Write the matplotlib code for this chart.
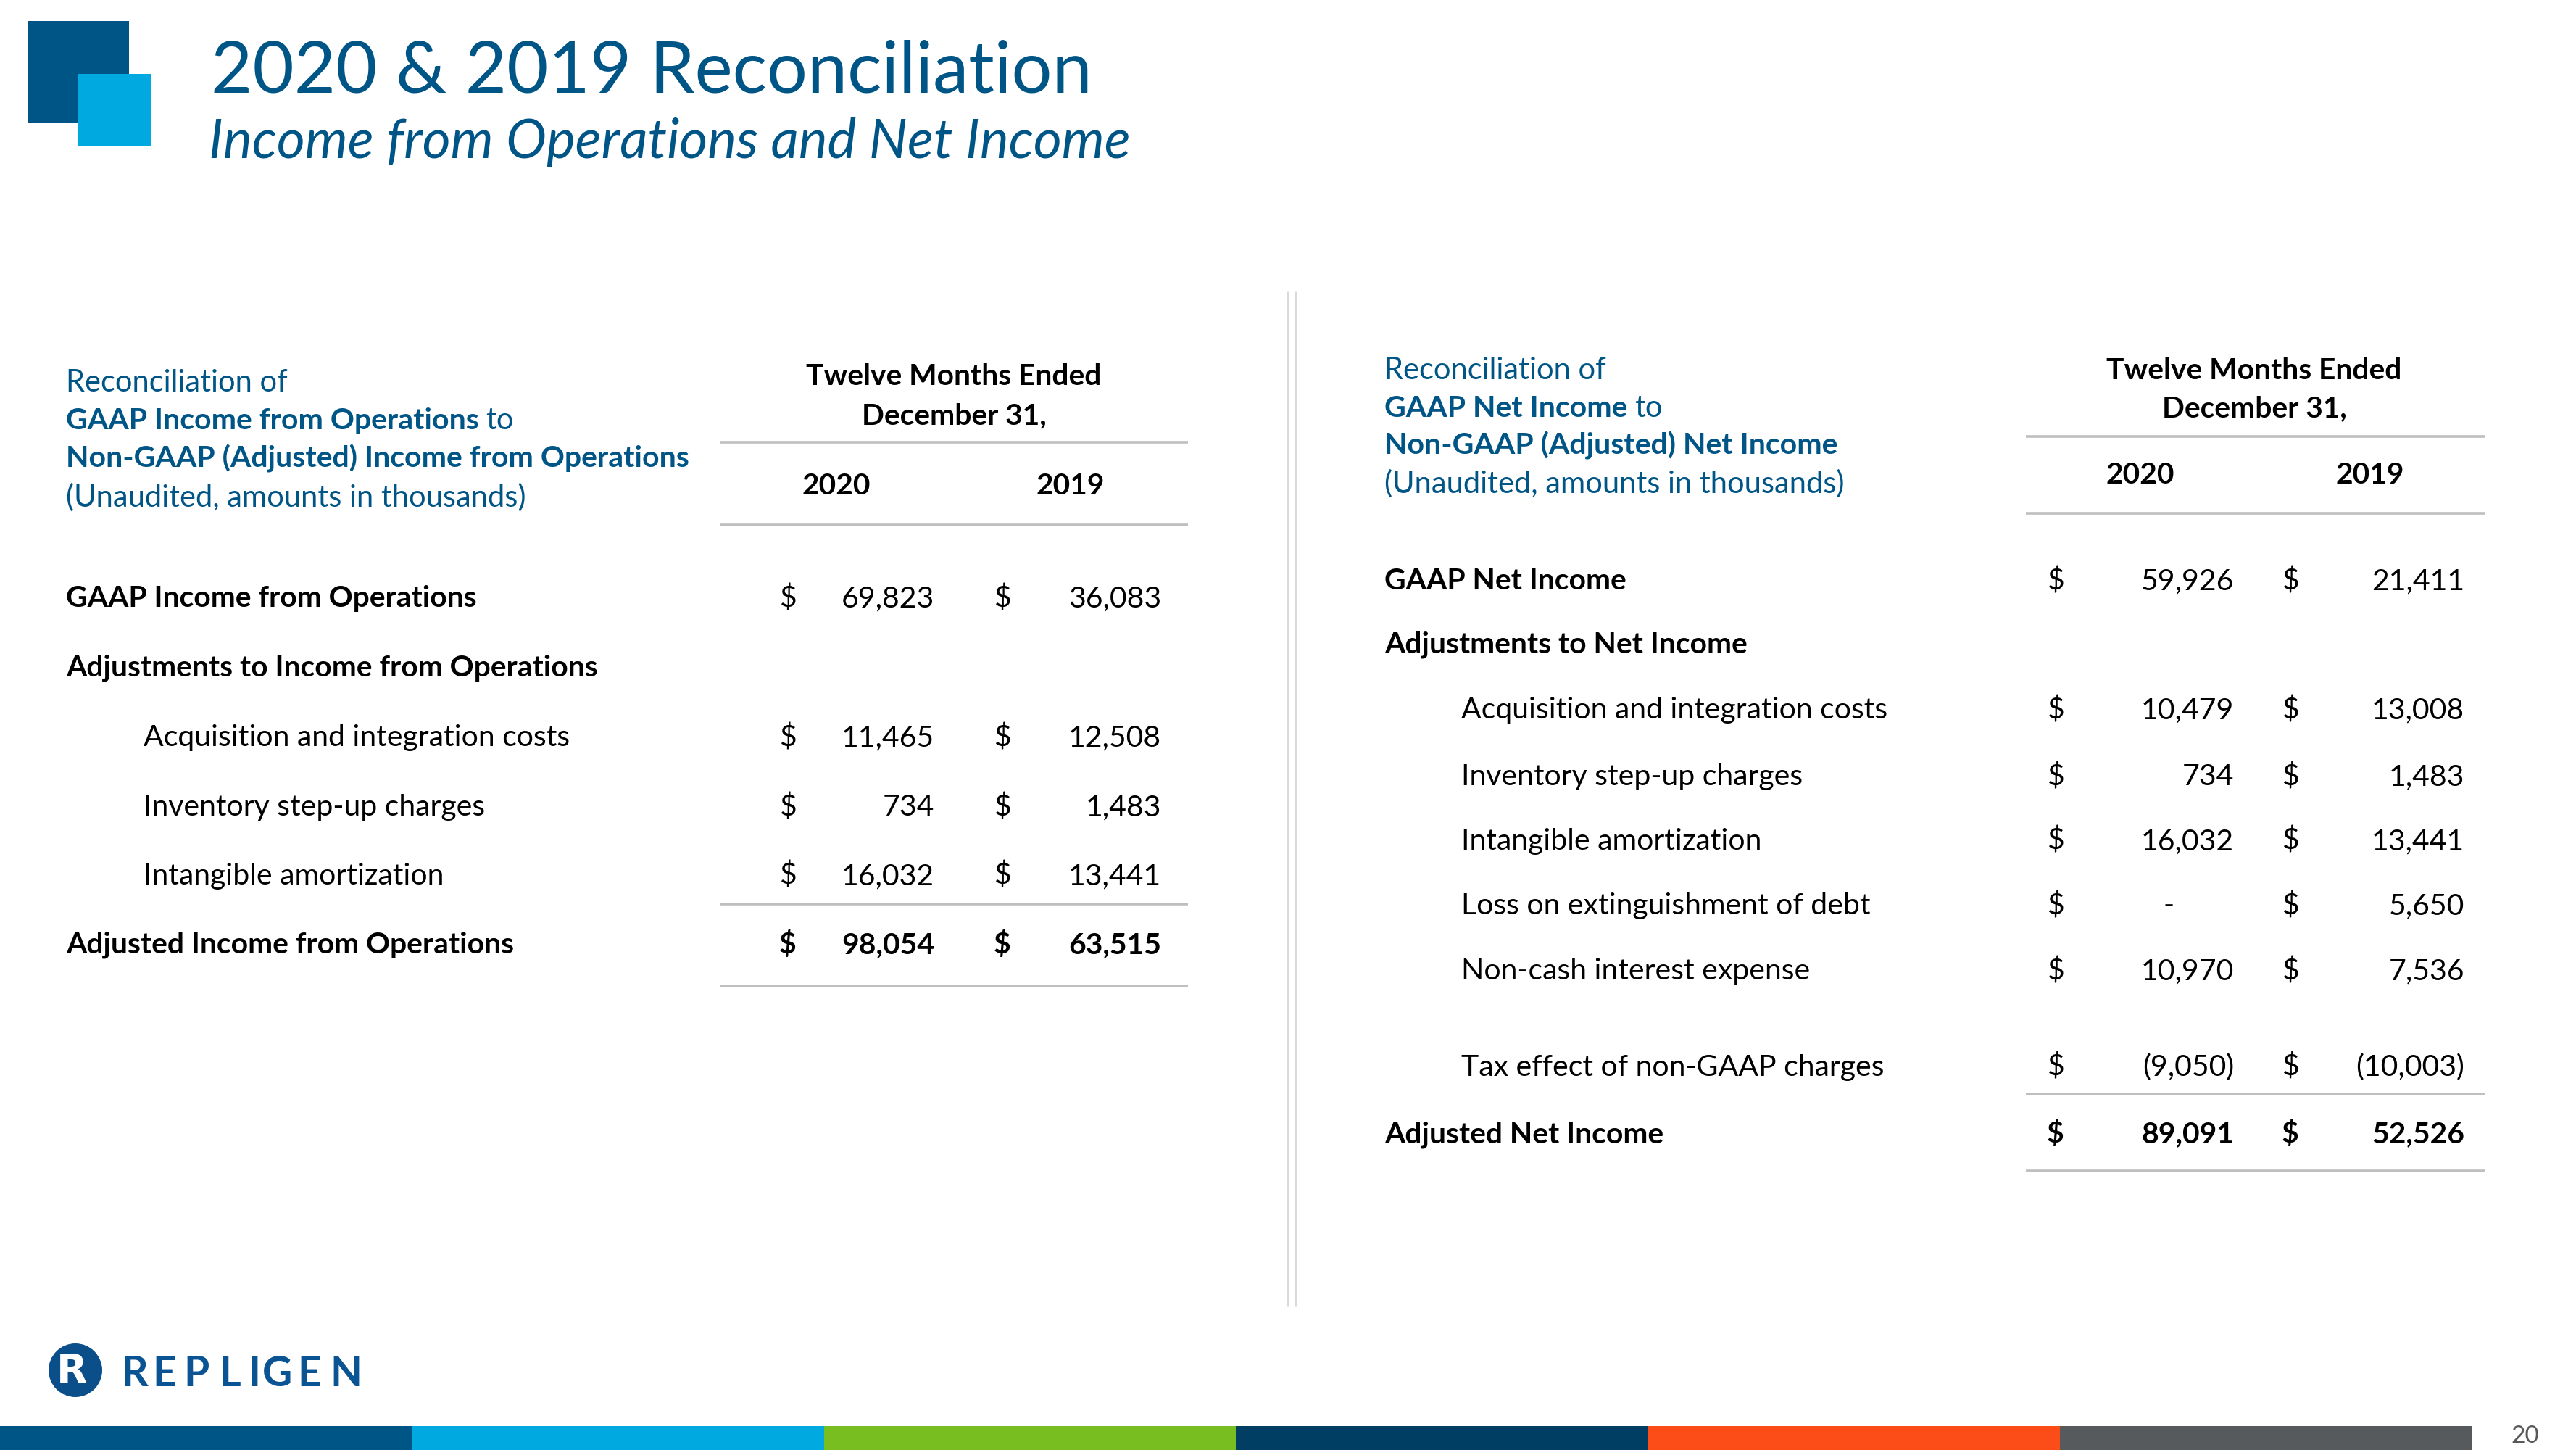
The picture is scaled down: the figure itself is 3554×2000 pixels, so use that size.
import matplotlib
matplotlib.use("Agg")
import matplotlib.pyplot as plt
from matplotlib.patches import Rectangle, Circle

# ---------------- data ----------------
title = "2020 & 2019 Reconciliation"
subtitle = "Income from Operations and Net Income"
period_header = ["Twelve Months Ended", "December 31,"]
years = ["2020", "2019"]

left_header_lines = [
    [("Reconciliation of", False)],
    [("GAAP Income from Operations", True), ("to", False)],
    [("Non-GAAP (Adjusted) Income from Operations", True)],
    [("(Unaudited, amounts in thousands)", False)],
]
left_labels = ["GAAP Income from Operations",
               "Adjustments to Income from Operations",
               "Acquisition and integration costs",
               "Inventory step-up charges",
               "Intangible amortization",
               "Adjusted Income from Operations"]
left_kind = ["bold", "bold", "item", "item", "item", "total"]
left_2020 = [69823, None, 11465, 734, 16032, 98054]
left_2019 = [36083, None, 12508, 1483, 13441, 63515]

right_header_lines = [
    [("Reconciliation of", False)],
    [("GAAP Net Income", True), ("to", False)],
    [("Non-GAAP (Adjusted) Net Income", True)],
    [("(Unaudited, amounts in thousands)", False)],
]
right_labels = ["GAAP Net Income",
                "Adjustments to Net Income",
                "Acquisition and integration costs",
                "Inventory step-up charges",
                "Intangible amortization",
                "Loss on extinguishment of debt",
                "Non-cash interest expense",
                "Tax effect of non-GAAP charges",
                "Adjusted Net Income"]
right_kind = ["bold", "bold", "item", "item", "item", "item", "item", "item", "total"]
right_2020 = [59926, None, 10479, 734, 16032, 0, 10970, -9050, 89091]
right_2019 = [21411, None, 13008, 1483, 13441, 5650, 7536, -10003, 52526]

logo_text = "REPLIGEN"
page_number = "20"

# ---------------- style ----------------
W, H, DPI = 3555, 2000, 100
plt.rcParams['font.family'] = ["Lato", "DejaVu Sans"]
BLUE = "#005587"
LIGHT_BLUE = "#00A9E0"
LINE_GRAY = "#BFBFBF"
bar_colors = ["#005587", "#00A9E0", "#78BE20", "#003F63", "#FC4C17", "#575A5C"]

fig = plt.figure(figsize=(W / DPI, H / DPI), dpi=DPI)
ax = fig.add_axes([0, 0, 1, 1])
ax.set_xlim(0, W)
ax.set_ylim(H, 0)
ax.axis("off")
renderer = fig.canvas.get_renderer()


def width_of(s, size, **kw):
    t = ax.text(0, 0, s, fontsize=size, **kw)
    w = t.get_window_extent(renderer).width
    t.remove()
    return w


def fit(s, target, **kw):
    return 10 * target / width_of(s, 10, **kw)


def txt(x, y, s, size, weight="normal", style="normal", color="black", ha="left"):
    return ax.text(x, y, s, fontsize=size, fontweight=weight, fontstyle=style,
                   color=color, ha=ha, va="baseline")


# font sizes fitted to measured widths
S_TITLE = fit(title, 1217)
S_SUB = fit(subtitle, 1273, fontstyle="italic")
S_REG = fit("Acquisition and integration costs", 590)
S_BOLD = fit("GAAP Income from Operations", 569, fontweight="bold")
S_HREG = fit("(Unaudited, amounts in thousands)", 635)
S_HBOLD = fit("Non-GAAP (Adjusted) Income from Operations", 862, fontweight="bold")
S_PER = fit("Twelve Months Ended", 410, fontweight="bold")

# ---------------- header ----------------
ax.add_patch(Rectangle((38, 29), 140, 140, color=BLUE, lw=0))
ax.add_patch(Rectangle((108, 102), 100, 100, color=LIGHT_BLUE, lw=0))
txt(291, 128, title, S_TITLE, color=BLUE)
txt(288, 218, subtitle, S_SUB, style="italic", color=BLUE)

# ---------------- divider ----------------
for xx in (1777, 1787):
    ax.plot([xx, xx], [402, 1802], color="#DADADA", lw=2.2, solid_capstyle="butt")


def fmt(v):
    if v is None:
        return ""
    if v == 0:
        return "-"
    if v < 0:
        return "({:,})".format(-v)
    return "{:,}".format(v)


def draw_table(L, header_lines, labels, kinds, v2020, v2019):
    px_per_pt = DPI / 72.0
    for segs, yb in zip(header_lines, L["hdr_base"]):
        x = L["label_x"]
        for i, (s, bold) in enumerate(segs):
            if i > 0:
                x += 0.23 * S_HREG * px_per_pt
            size = S_HBOLD if bold else S_HREG
            t = txt(x, yb, s, size, weight="bold" if bold else "normal", color=BLUE)
            x += t.get_window_extent(renderer).width
    for s, yb in zip(period_header, L["period_base"]):
        txt(L["hdr_center"], yb, s, S_PER, weight="bold", ha="center")
    for s, xc in zip(years, (L["yc1"], L["yc2"])):
        txt(xc, L["year_base"], s, S_PER, weight="bold", ha="center")
    for yy in (L["line1"], L["line2"], L["line3"], L["line4"]):
        ax.plot([L["line_x0"], L["line_x1"]], [yy, yy], color=LINE_GRAY, lw=2.6,
                solid_capstyle="butt")
    for lab, kind, a, b, yb in zip(labels, kinds, v2020, v2019, L["rows"]):
        if kind == "item":
            txt(L["indent_x"], yb, lab, S_REG)
        else:
            txt(L["label_x"], yb, lab, S_BOLD, weight="bold")
        wt = "bold" if kind == "total" else "normal"
        sz = S_BOLD if kind == "total" else S_REG
        for v, xd, xn in ((a, L["d1"], L["n1"]), (b, L["d2"], L["n2"])):
            if v is None:
                continue
            txt(xd, yb, "$", sz, weight=wt)
            if v == 0:
                txt(xn - 90, yb, fmt(v), sz, weight=wt, ha="center")
            else:
                txt(xn, yb, fmt(v), sz, weight=wt, ha="right")


LEFT = dict(label_x=91, indent_x=198, d1=1075, n1=1289, d2=1371, n2=1602,
            line_x0=993, line_x1=1639, hdr_center=1316, yc1=1154, yc2=1477,
            hdr_base=[540, 592, 645, 699], period_base=[531, 585],
            line1=610, year_base=682, line2=724,
            rows=[837, 932, 1029, 1125, 1220, 1315], line3=1247, line4=1360)
RIGHT = dict(label_x=1910, indent_x=2016, d1=2824, n1=3082, d2=3148, n2=3400,
             line_x0=2795, line_x1=3428, hdr_center=3110, yc1=2953, yc2=3270,
             hdr_base=[523, 575, 627, 680], period_base=[523, 575],
             line1=602, year_base=667, line2=708,
             rows=[813, 901, 991, 1083, 1172, 1261, 1351, 1484, 1576],
             line3=1509, line4=1615)

draw_table(LEFT, left_header_lines, left_labels, left_kind, left_2020, left_2019)
draw_table(RIGHT, right_header_lines, right_labels, right_kind, right_2020, right_2019)

# ---------------- footer logo ----------------
ax.add_patch(Circle((104, 1890), 37, color="#0B4F8A", lw=0))
ax.text(99, 1892, "R", fontsize=40, fontweight="bold", color="white",
        ha="center", va="center", family=["DejaVu Sans"])
letter_x = [167, 210, 253, 302, 342, 362, 410, 455]
for ch, lx in zip(logo_text, letter_x):
    ax.text(lx, 1912, ch, fontsize=41, fontweight="bold", color="#0A5494",
            ha="left", va="baseline", family=["Lato", "DejaVu Sans"])

# ---------------- bottom color bar ----------------
seg_w = 3411 / len(bar_colors)
for i, c in enumerate(bar_colors):
    ax.add_patch(Rectangle((i * seg_w, 1967), seg_w + 0.5, 33, color=c, lw=0))
txt(3503, 1990, page_number, 24, color="#595959", ha="right")

fig.savefig("out.png", dpi=DPI)
